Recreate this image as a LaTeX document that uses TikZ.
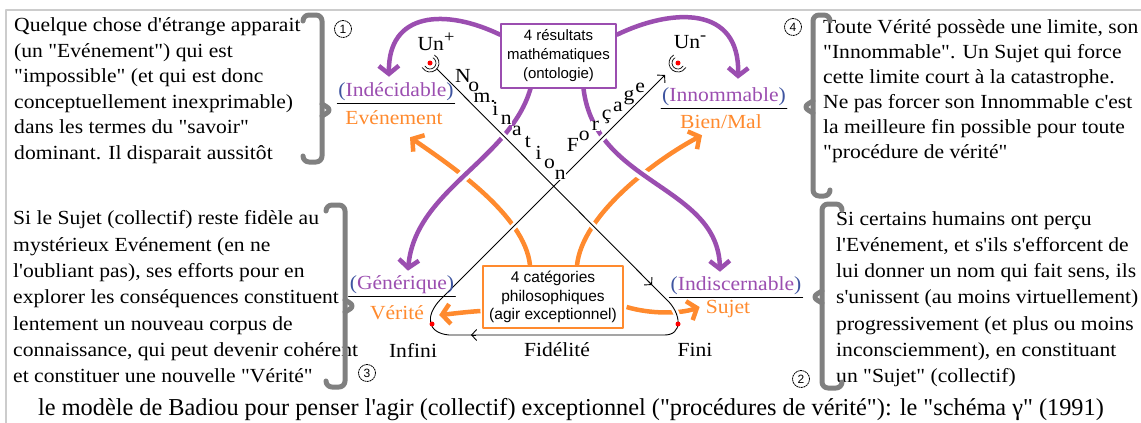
\documentclass[tikz,border=0pt]{standalone}
\usepackage{fontspec}
\setmainfont{Liberation Serif}[FakeStretch=1.08, Ligatures=TeXOff]
\newfontfamily\legfont{Liberation Serif}
\newfontfamily\boxfont{Liberation Sans}
\usetikzlibrary{arrows.meta,calc}
\pgfdeclarelayer{behind}
\pgfsetlayers{behind,main}
\definecolor{mauve}{RGB}{155,78,176}
\definecolor{orangeb}{RGB}{255,138,46}
\definecolor{bleup}{RGB}{62,84,160}
\newcommand\parlab[1]{\textcolor{bleup}{(}\textcolor{mauve}{#1}\textcolor{bleup}{)}}
\newcommand\haut[1]{\raisebox{8pt}{\fontsize{17}{17}\selectfont #1}}

\begin{document}
\begin{tikzpicture}[x=1pt, y=-1pt, line join=round, line cap=round, font=\fontsize{20}{25}\selectfont]
	\colorlet{bracket edge}{black!50}
	\tikzset{txt/.style={anchor=base west, inner sep=0pt},
		lab/.style={inner xsep=1pt, inner ysep=2pt},
		lettre/.style={fill=white, inner sep=0.5pt},
		brk/.style={draw=bracket edge, line width=5pt, rounded corners=6pt},
		num/.style={circle, draw, dash pattern=on 1.5pt off 1pt, line width=0.8pt, inner sep=0pt, minimum size=17pt, font=\boxfont\fontsize{12}{12}\selectfont},
		resbox/.style={draw=mauve, line width=1.2pt, fill=white, align=center, minimum width=115pt, minimum height=64pt, inner sep=1pt, font=\boxfont\fontsize{15}{19}\selectfont},
		catbox/.style={resbox, draw=orangeb, minimum width=140pt, minimum height=62pt, font=\boxfont\fontsize{15.5}{18.5}\selectfont},
		reddot/.style={circle, fill=red, inner sep=0pt, minimum size=5pt},
		cyc/.style={draw=black, line width=0.9pt},
		halo/.style={draw=white, line width=6pt, line cap=butt},
		thick arrow/.style={line width=4.5pt, -{Straight Barb[length=8pt,width=20pt]}},
		purp/.style={thick arrow, draw=mauve},
		oran/.style={thick arrow, draw=orangeb},
		blk tip/.style={-{Straight Barb[length=5pt,width=11pt]}}}
	\useasboundingbox (0,0) rectangle (1141,423);
	\draw[black!20, line width=1.5pt] (6,423) -- (6,10) -- (1141,10);
	% the four texts
	\foreach \t [count=\i] in {{Quelque chose d'étrange apparait},{(un "Evénement") qui est},{"impossible" (et qui est donc},{conceptuellement inexprimable)},{dans les termes du "savoir"},{dominant. Il disparait aussitôt}}
		\node[txt] (hg\i) at (14,6+25.5*\i) {\t};
	\foreach \t [count=\i] in {{Toute Vérité possède une limite, son},{"Innommable". Un Sujet qui force},{cette limite court à la catastrophe.},{Ne pas forcer son Innommable c'est},{la meilleure fin possible pour toute},{"procédure de vérité"}}
		\node[txt] (hd\i) at (823,8+25*\i) {\t};
	\foreach \t [count=\i] in {{Si le Sujet (collectif) reste fidèle au},{mystérieux Evénement (en ne},{l'oubliant pas), ses efforts pour en},{explorer les conséquences constituent},{lentement un nouveau corpus de},{connaissance, qui peut devenir cohérent},{et constituer une nouvelle "Vérité"}}
		\node[txt] (bg\i) at (13,198.5+26.3*\i) {\t};
	\foreach \t [count=\i] in {{Si certains humains ont perçu},{l'Evénement, et s'ils s'efforcent de},{lui donner un nom qui fait sens, ils},{s'unissent (au moins virtuellement)},{progressivement (et plus ou moins},{inconsciemment), en constituant},{un "Sujet" (collectif)}}
		\node[txt] (bd\i) at (836,199+26.2*\i) {\t};
	\draw[brk] (303,21) |- (322,15) -- (322,162) -| (303,156);
	\draw[brk] (322,104) -- (332,110) -- (322,116);
	\draw[brk] (326,211) |- (345,205) -- (345,387) -| (326,381);
	\draw[brk] (345,300) -- (355,306) -- (345,312);
	\draw[brk] (830,21) |- (813,15) -- (813,196) -| (830,190);
	\draw[brk] (813,101) -- (803,107) -- (813,113);
	\draw[brk] (842,210) |- (822,204) -- (822,388) -| (842,382);
	\draw[brk] (822,291) -- (812,297) -- (822,303);
	\node[num] (n1) at (343,29) {1};
	\node[num] (n4) at (793,27) {4};
	\node[num] (n3) at (367,373) {3};
	\node[num] (n2) at (801,379) {2};
	% boxes and labels
	\node[resbox] (ont) at (558.5,56) {4 résultats\\mathématiques\\(ontologie)};
	\node[catbox] (cat) at (553,297) {4 catégories\\philosophiques\\(agir exceptionnel)};
	\node[lab] (indec) at (396,92) {\parlab{Indécidable}};
	\node[lab, text=orangeb] (evene) at (394,118) {Evénement};
	\node[lab] (innom) at (724,97) {\parlab{Innommable}};
	\node[lab, text=orangeb] (bien) at (721,122) {Bien/Mal};
	\node[lab] (gener) at (402,285) {\parlab{Générique}};
	\node[lab, text=orangeb] (verite) at (397,313) {Vérité};
	\node[lab] (indisc) at (736,286) {\parlab{Indiscernable}};
	\node[lab, text=orangeb] (sujet) at (728,309) {Sujet};
	\draw[line width=0.9pt] (indec.south west) -- (indec.south east)
		(innom.south west) -- (innom.south east)
		(gener.south west) -- (gener.south east)
		(indisc.south west) -- (indisc.south east);
	\node (infini) at (413,350) {Infini};
	\node (fidel) at (557,350) {Fidélité};
	\node (fini) at (695,350) {Fini};
	\node (unp) at (436,42) {Un\haut{+}};
	\node (unm) at (690,42) {Un\haut{-}};
	\node[reddot] (dplus) at (430,63) {};
	\node[reddot] (dminus) at (678,63) {};
	\node[reddot] (dinf) at (432,324) {};
	\node[reddot] (dfin) at (678,324) {};
	\draw[line width=0.7pt] (dplus) ++(60:6pt) arc[start angle=60, end angle=-150, radius=6pt]
		(dplus) ++(60:9pt) arc[start angle=60, end angle=-150, radius=9pt];
	\draw[line width=0.7pt] (dminus) ++(120:6pt) arc[start angle=120, end angle=330, radius=6pt]
		(dminus) ++(120:9pt) arc[start angle=120, end angle=330, radius=9pt];
	\foreach \c [count=\i from 0] in {N,o,m.,i,n,a,t,i,o,n}
		\node[lettre] (nom\i) at (463+10.8*\i,76+11*\i) {\c};
	\foreach \c [count=\i from 0] in {F,o,r,ç,a,g,e}
		\node[lettre] (forc\i) at (573+11.2*\i,145-9.5*\i) {\c};
	\node[anchor=base west, inner sep=0pt, font=\legfont\fontsize{24.3}{24.3}\selectfont] (legende) at (38,415)
		{le modèle de Badiou pour penser l'agir (collectif) exceptionnel ("procédures de vérité"): le "schéma γ" (1991)};
	\coordinate (nomA) at (652,285);
	\coordinate (fidA) at (471,335);
	\begin{pgfonlayer}{behind}
		\draw[oran] ($(cat.north)+(-23,0)$) .. controls (525,215) and (450,165) .. ($(evene.south)+(16,10)$);
		\draw[oran] ($(cat.north)+(24,0)$) .. controls (582,215) and (655,160) .. ($(bien.south)+(-19,4)$);
		\draw[oran] ($(cat.west)+(-2,14)$) .. controls (465,312) and (450,314) .. ($(verite.east)+(14,2)$);
		\draw[oran] ($(cat.east)+(3,10)$) .. controls (650,314) and (680,314) .. ($(sujet.west)+(-5,-2)$);
		%
		\draw[purp] (ont.160) .. controls (445,8) and (388,12) .. ($(indec.north)+(-7,-4)$);
		\draw[purp] (ont.20) .. controls (672,8) and (740,5) .. ($(innom.north)+(14,-7)$);
		\draw[halo, line width=11pt, shorten <=6pt, shorten >=12pt] ($(ont.south)+(-28,0)$) .. controls (510,160) and (415,190) .. ($(gener.north)+(6,-3)$);
		\draw[purp] ($(ont.south)+(-28,0)$) .. controls (510,160) and (415,190) .. ($(gener.north)+(6,-3)$);
		\draw[halo, line width=11pt, shorten <=6pt, shorten >=12pt] ($(ont.south)+(25,0)$) .. controls (595,185) and (718,185) .. ($(indisc.north)+(-16,-3)$);
		\draw[purp] ($(ont.south)+(25,0)$) .. controls (595,185) and (718,185) .. ($(indisc.north)+(-16,-3)$);
		%
		\def\boucle{($(dplus)+(7,6)$) -- (667,300) .. controls (681,313) and (684,336) .. (663,335) -- (449,335) .. controls (427,333) and (425,316) .. (440,300) -- ($(dminus)+(-13,12)$)}
		\draw[halo] \boucle;
		\draw[cyc, blk tip] \boucle;
		\draw[cyc, blk tip] ($(nomA)+(-4,-4)$) -- (nomA);
		\draw[cyc, blk tip] ($(fidA)+(5,0)$) -- (fidA);
	\end{pgfonlayer}
\end{tikzpicture}
\end{document}
